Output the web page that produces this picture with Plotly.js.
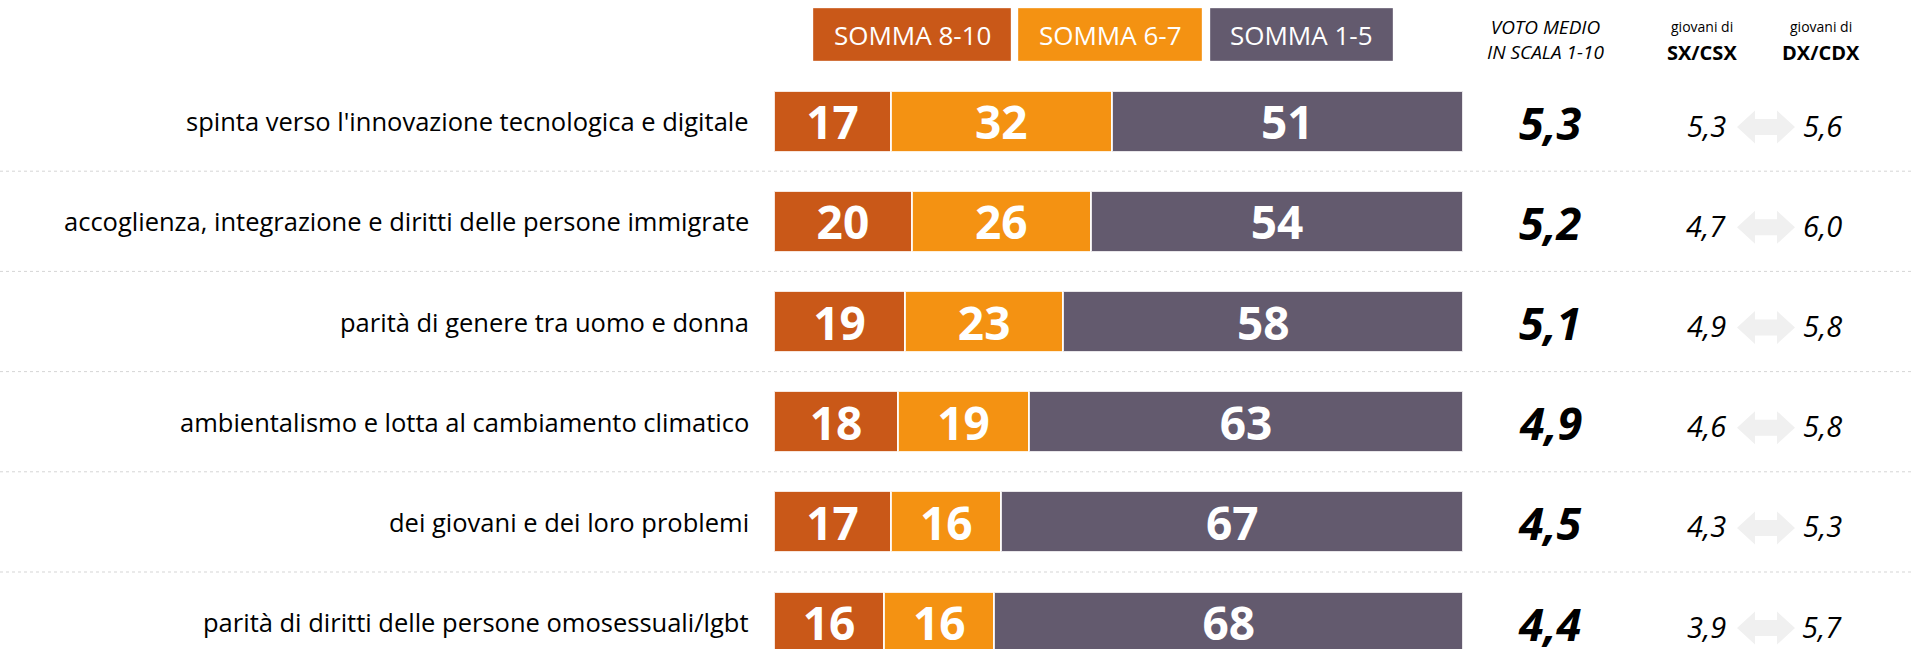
<!DOCTYPE html>
<html>
<head>
<meta charset="utf-8">
<script src="https://cdn.plot.ly/plotly-3.0.1.min.js"></script>
<style>html,body{margin:0;padding:0;background:#fff;}#chart{width:1913px;height:649px;}</style>
</head>
<body>
<div id="chart"></div>
<script>
// ---- data ----
const categories = [
  "spinta verso l'innovazione tecnologica e digitale",
  "accoglienza, integrazione e diritti delle persone immigrate",
  "parità di genere tra uomo e donna",
  "ambientalismo e lotta al cambiamento climatico",
  "dei giovani e dei loro problemi",
  "parità di diritti delle persone omosessuali/lgbt"
];
const seriesNames = ["SOMMA 8-10", "SOMMA 6-7", "SOMMA 1-5"];
const somma810 = [17, 20, 19, 18, 17, 16];
const somma67  = [32, 26, 23, 19, 16, 16];
const somma15  = [51, 54, 58, 63, 67, 68];
const votoMedio = [5.3, 5.2, 5.1, 4.9, 4.5, 4.4];
const votoSx    = [5.3, 4.7, 4.9, 4.6, 4.3, 3.9];
const votoDx    = [5.6, 6.0, 5.8, 5.8, 5.3, 5.7];
const headerVoto = "VOTO MEDIO<br>IN SCALA 1-10";
const headerSmall = "giovani di";
const headerSx = "SX/CSX";
const headerDx = "DX/CDX";

// ---- style / layout ----
const colors = ["#C95818", "#F49212", "#635A6E"];
const W = 1913, H = 649;
const L = 774, R = W - 1463, T = 71, B = 0;
const PW = W - L - R, PH = H - T - B;
const rowPx = 100.2;
const px = v => (v - L) / PW;          // pixel x -> paper x
const py = v => 1 + (T - v) / PH;      // pixel y -> paper y
const fmt = v => v.toFixed(1).replace('.', ',');
const FONT = "Open Sans, Noto Sans, sans-serif";

const seriesVals = [somma810, somma67, somma15];
const traces = seriesVals.map((vals, i) => ({
  type: 'bar', orientation: 'h',
  name: seriesNames[i],
  x: vals, y: categories,
  marker: {color: colors[i], line: {color: 'rgba(255,255,255,0.85)', width: 2}},
  text: vals.map(String),
  textposition: 'inside',
  insidetextanchor: 'middle',
  textangle: 0,
  constraintext: 'none',
  cliponaxis: true,
  textfont: {family: FONT, size: 46, color: '#ffffff', weight: 700},
  hoverinfo: 'skip'
}));

const annotations = [];
const shapes = [];

categories.forEach((c, i) => {
  annotations.push({xref: 'paper', yref: 'y', x: px(751), y: i, text: c, showarrow: false,
    xanchor: 'right', yanchor: 'middle', font: {family: FONT, size: 25.5, color: '#000'}});
  annotations.push({xref: 'paper', yref: 'y', x: px(1550), y: i, text: fmt(votoMedio[i]), showarrow: false,
    xanchor: 'center', yanchor: 'middle', yshift: -1,
    font: {family: FONT, size: 45, color: '#000', weight: 700, style: 'italic'}});
  annotations.push({xref: 'paper', yref: 'y', x: px(1706), y: i, text: fmt(votoSx[i]), showarrow: false,
    xanchor: 'center', yanchor: 'middle', yshift: -4,
    font: {family: FONT, size: 29, color: '#000', style: 'italic'}});
  annotations.push({xref: 'paper', yref: 'y', x: px(1822), y: i, text: fmt(votoDx[i]), showarrow: false,
    xanchor: 'center', yanchor: 'middle', yshift: -4,
    font: {family: FONT, size: 29, color: '#000', style: 'italic'}});
  shapes.push({type: 'path', xref: 'paper', yref: 'y',
    xsizemode: 'pixel', ysizemode: 'pixel', xanchor: px(1766), yanchor: i,
    path: 'M -29 -6 L -11 10.5 L -11 2 L 11 2 L 11 10.5 L 29 -6 L 11 -22.5 L 11 -14 L -11 -14 L -11 -22.5 Z',
    fillcolor: '#F0F0F0', line: {width: 0}, layer: 'below'});
});

for (let i = 0; i < categories.length - 1; i++) {
  shapes.push({type: 'line', xref: 'paper', yref: 'y', x0: px(0), x1: px(W), y0: i + 0.5, y1: i + 0.5,
    line: {color: '#D5D5D5', width: 1, dash: 'dot'}, layer: 'below'});
}

const boxes = [[813, 1011], [1018, 1202], [1210, 1393]];
boxes.forEach((b, i) => {
  shapes.push({type: 'rect', xref: 'paper', yref: 'paper', x0: px(b[0]), x1: px(b[1]), y0: py(61), y1: py(8),
    fillcolor: colors[i], line: {color: 'rgba(255,255,255,0.35)', width: 1}});
  annotations.push({xref: 'paper', yref: 'paper', x: px((b[0] + b[1]) / 2), y: py(35), text: seriesNames[i],
    showarrow: false, xanchor: 'center', yanchor: 'middle', font: {family: FONT, size: 26, color: '#fff'}});
});

annotations.push({xref: 'paper', yref: 'paper', x: px(1545), y: py(40), text: headerVoto, showarrow: false,
  xanchor: 'center', yanchor: 'middle', font: {family: FONT, size: 19, color: '#000', style: 'italic'}});
[[1702, headerSx], [1821, headerDx]].forEach(h => {
  annotations.push({xref: 'paper', yref: 'paper', x: px(h[0]), y: py(26), text: headerSmall, showarrow: false,
    xanchor: 'center', yanchor: 'middle', font: {family: FONT, size: 14, color: '#000'}});
  annotations.push({xref: 'paper', yref: 'paper', x: px(h[0]), y: py(53), text: h[1], showarrow: false,
    xanchor: 'center', yanchor: 'middle', font: {family: FONT, size: 20, color: '#000', weight: 700}});
});

const layout = {
  width: W, height: H,
  margin: {l: L, r: R, t: T, b: B, pad: 0},
  barmode: 'stack', bargap: 0.39,
  showlegend: false, hovermode: false,
  paper_bgcolor: '#fff', plot_bgcolor: 'rgba(0,0,0,0)',
  xaxis: {range: [0, 100], visible: false, fixedrange: true},
  yaxis: {type: 'category', categoryorder: 'array', categoryarray: categories,
    range: [-0.5 + PH / rowPx, -0.5], autorange: false, visible: false, fixedrange: true},
  annotations: annotations, shapes: shapes
};

Plotly.newPlot('chart', traces, layout, {staticPlot: true, displayModeBar: false});
</script>
</body>
</html>
